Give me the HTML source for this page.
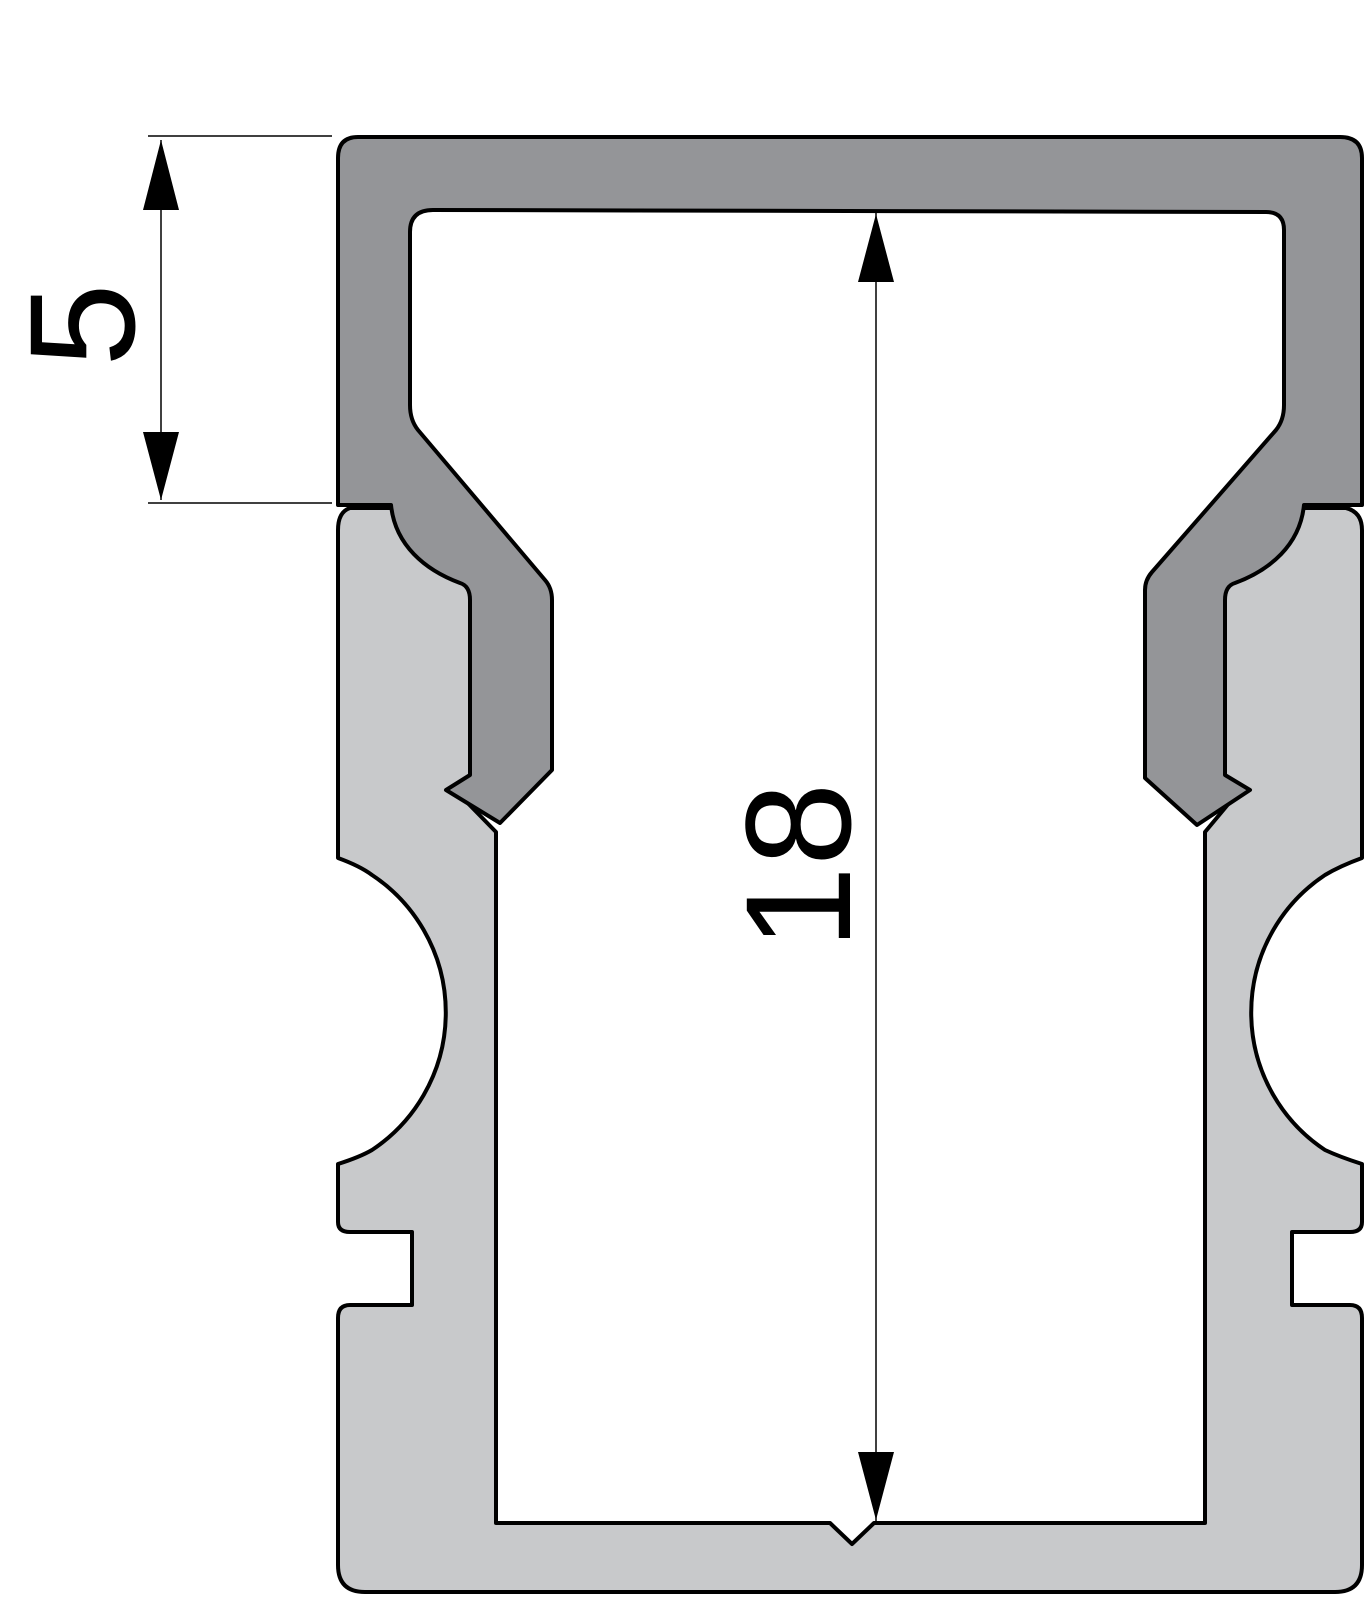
<!DOCTYPE html>
<html><head><style>html,body{margin:0;padding:0;background:#fff}svg{display:block}</style></head><body>
<svg width="1368" height="1600" viewBox="0 0 1368 1600" xmlns="http://www.w3.org/2000/svg">
<g stroke="#000" stroke-width="4" stroke-linejoin="round">
<path fill="#c8c9cb" d="
M350,508 L395,508 L480,600 L480,770 L455,790 L496,832 L496,1523 L830,1523 L852,1544 L874,1523 L1205,1523 L1205,832 L1240,790 L1212,770 L1212,600 L1304,508 L1346,508 Q1362,512 1362,530 L1362,858 Q1340,866 1325,875 A165,165 0 0 0 1325,1150 Q1340,1157 1362,1164 L1362,1222 Q1362,1232 1350,1232 L1292,1232 L1292,1305 L1350,1305 Q1362,1305 1362,1318 L1362,1565 Q1362,1592 1335,1592 L365,1592 Q338,1592 338,1565 L338,1318 Q338,1305 350,1305 L412,1305 L412,1232 L350,1232 Q338,1232 338,1222 L338,1164 Q360,1157 372,1150 A165,165 0 0 0 372,875 Q360,866 338,858 L338,530 Q338,512 350,508 Z"/>
<path fill="#949598" d="
M358,137 L1340,137 Q1362,137 1362,158 L1362,505 L1304,505 C1300,545 1270,570 1235,583 Q1225,586 1225,600 L1225,775 L1250,790 L1197,825 L1145,778 L1145,590 Q1145,580 1152,572 L1276,430 Q1284,420 1284,405 L1284,230 Q1284,212 1266,212 L433,210 Q410,210 410,232 L410,405 Q410,420 418,430 L545,580 Q552,588 552,600 L552,770 L500,823 L446,790 L470,775 L470,600 Q470,586 460,583 C425,570 395,545 391,505 L338,505 L338,158 Q338,137 358,137 Z"/>
</g>
<g stroke="#000" stroke-width="1.5">
<line x1="148" y1="136" x2="332" y2="136"/>
<line x1="148" y1="503" x2="332" y2="503"/>
<line x1="161" y1="140" x2="161" y2="500"/>
<line x1="876" y1="212" x2="876" y2="1522"/>
</g>
<g fill="#000">
<polygon points="161,140 143,210 179,210"/>
<polygon points="161,500 143,432 179,432"/>
<polygon points="876,214 858,282 894,282"/>
<polygon points="876,1520 858,1452 894,1452"/>
</g>
<text transform="translate(134,325) rotate(-90)" text-anchor="middle" font-family="Liberation Sans, sans-serif" font-size="150" fill="#000">5</text>
<text transform="translate(850,866) rotate(-90)" text-anchor="middle" font-family="Liberation Sans, sans-serif" font-size="150" fill="#000">18</text>
</svg>
</body></html>
